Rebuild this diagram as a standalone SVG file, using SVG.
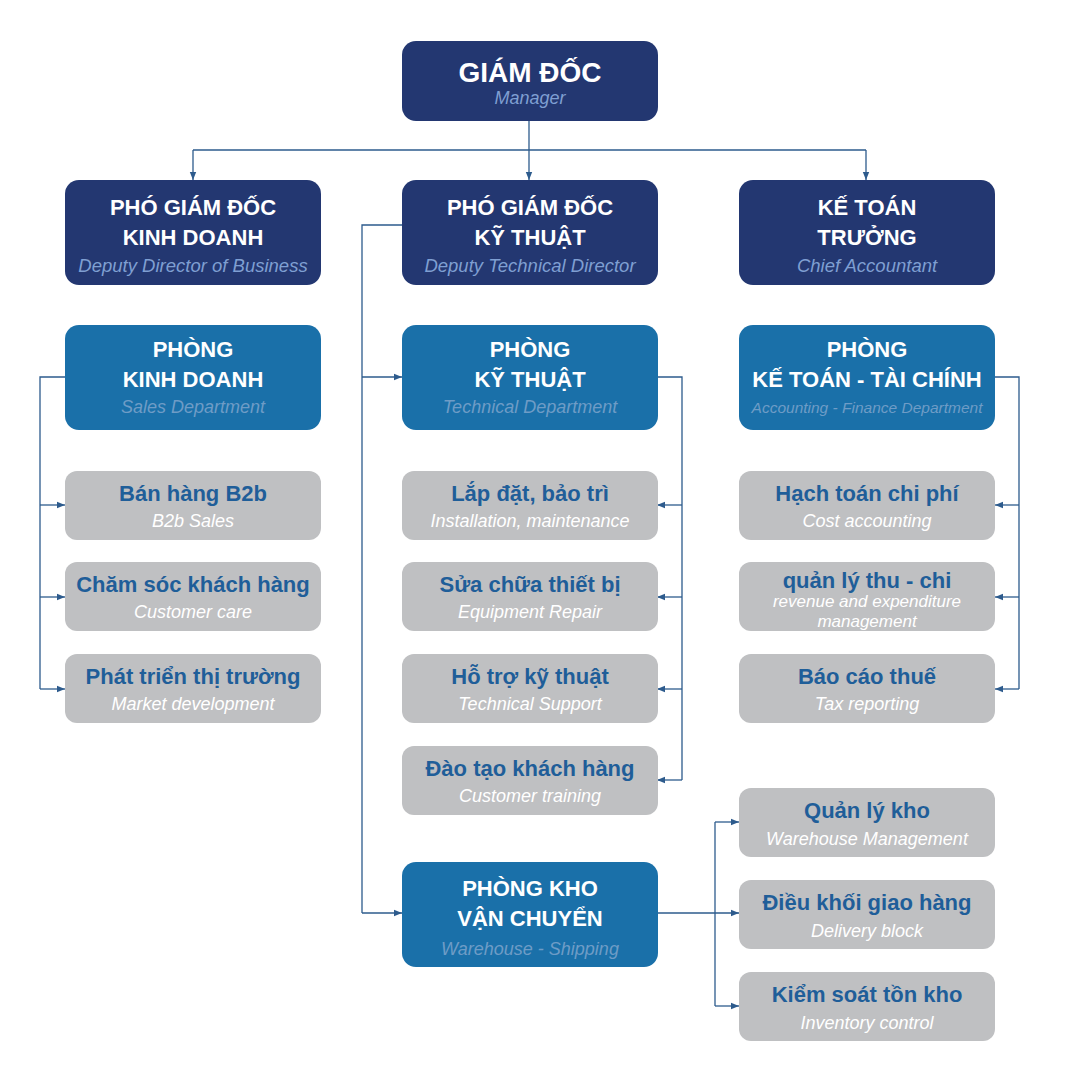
<svg xmlns="http://www.w3.org/2000/svg" width="1080" height="1080" viewBox="0 0 1080 1080">
<defs>
<marker id="arr" viewBox="0 0 8 8" refX="8" refY="4" markerWidth="8" markerHeight="8" markerUnits="userSpaceOnUse" orient="auto">
<path d="M0,0.8 L8,4 L0,7.2 Z" fill="#2d5b8d"/>
</marker>
<style>
.navy{fill:#233771}
.blue{fill:#1a70a9}
.gray{fill:#bfc0c2}
text{font-family:"Liberation Sans",Arial,sans-serif;text-anchor:middle}
.t1{font-size:22px;font-weight:bold;fill:#ffffff}
.tg{font-size:28px;font-weight:bold;fill:#ffffff}
.sd{font-size:18.5px;font-style:italic;fill:#7f9fd2}
.sb{font-size:18px;font-style:italic;fill:#6e9cc6}
.tt{font-size:22px;font-weight:bold;fill:#1f5e99}
.st{font-size:18px;font-style:italic;fill:#ffffff}
.con{fill:none;stroke:#2d5b8d;stroke-width:1.3}
</style>
</defs>
<rect width="1080" height="1080" fill="#ffffff"/>
<g id="connectors">
<path class="con" d="M529,120 V150"/>
<path class="con" d="M193,150 H866"/>
<path class="con" d="M193,150 V180" marker-end="url(#arr)"/>
<path class="con" d="M529,150 V180" marker-end="url(#arr)"/>
<path class="con" d="M866,150 V180" marker-end="url(#arr)"/>
<path class="con" d="M402,225 H362 V913"/>
<path class="con" d="M362,377 H402" marker-end="url(#arr)"/>
<path class="con" d="M362,913 H402" marker-end="url(#arr)"/>
<path class="con" d="M65,377 H40 V689"/>
<path class="con" d="M40,505 H65" marker-end="url(#arr)"/>
<path class="con" d="M40,597 H65" marker-end="url(#arr)"/>
<path class="con" d="M40,689 H65" marker-end="url(#arr)"/>
<path class="con" d="M657,377 H682 V780"/>
<path class="con" d="M682,505 H657" marker-end="url(#arr)"/>
<path class="con" d="M682,597 H657" marker-end="url(#arr)"/>
<path class="con" d="M682,689 H657" marker-end="url(#arr)"/>
<path class="con" d="M682,780 H657" marker-end="url(#arr)"/>
<path class="con" d="M995,377 H1019 V689"/>
<path class="con" d="M1019,505 H995" marker-end="url(#arr)"/>
<path class="con" d="M1019,597 H995" marker-end="url(#arr)"/>
<path class="con" d="M1019,689 H995" marker-end="url(#arr)"/>
<path class="con" d="M657,913 H739" marker-end="url(#arr)"/>
<path class="con" d="M715,822 V1006"/>
<path class="con" d="M715,822 H739" marker-end="url(#arr)"/>
<path class="con" d="M715,1006 H739" marker-end="url(#arr)"/>
</g>
<g id="giam-doc">
<rect class="navy" x="402" y="41" width="256" height="80" rx="14"/>
<text class="tg" x="530" y="82">GIÁM ĐỐC</text>
<text class="sd" x="530" y="104" style="font-size:18px">Manager</text>
</g>
<g id="pgd-kinh-doanh">
<rect class="navy" x="65" y="180" width="256" height="105" rx="14"/>
<text class="t1" x="193" y="215">PHÓ GIÁM ĐỐC</text>
<text class="t1" x="193" y="245">KINH DOANH</text>
<text class="sd" x="193" y="272">Deputy Director of Business</text>
</g>
<g id="pgd-ky-thuat">
<rect class="navy" x="402" y="180" width="256" height="105" rx="14"/>
<text class="t1" x="530" y="215">PHÓ GIÁM ĐỐC</text>
<text class="t1" x="530" y="245">KỸ THUẬT</text>
<text class="sd" x="530" y="272">Deputy Technical Director</text>
</g>
<g id="ke-toan-truong">
<rect class="navy" x="739" y="180" width="256" height="105" rx="14"/>
<text class="t1" x="867" y="215">KẾ TOÁN</text>
<text class="t1" x="867" y="245">TRƯỞNG</text>
<text class="sd" x="867" y="272">Chief Accountant</text>
</g>
<g id="phong-kinh-doanh">
<rect class="blue" x="65" y="325" width="256" height="105" rx="14"/>
<text class="t1" x="193" y="357">PHÒNG</text>
<text class="t1" x="193" y="387">KINH DOANH</text>
<text class="sb" x="193" y="413">Sales Department</text>
</g>
<g id="phong-ky-thuat">
<rect class="blue" x="402" y="325" width="256" height="105" rx="14"/>
<text class="t1" x="530" y="357">PHÒNG</text>
<text class="t1" x="530" y="387">KỸ THUẬT</text>
<text class="sb" x="530" y="413">Technical Department</text>
</g>
<g id="phong-ke-toan">
<rect class="blue" x="739" y="325" width="256" height="105" rx="14"/>
<text class="t1" x="867" y="357">PHÒNG</text>
<text class="t1" x="867" y="387">KẾ TOÁN - TÀI CHÍNH</text>
<text class="sb" x="867" y="413" style="font-size:15.5px">Accounting - Finance Department</text>
</g>
<g id="ban-hang-b2b">
<rect class="gray" x="65" y="471" width="256" height="69" rx="12"/>
<text class="tt" x="193" y="501">Bán hàng B2b</text>
<text class="st" x="193" y="527">B2b Sales</text>
</g>
<g id="cham-soc-khach-hang">
<rect class="gray" x="65" y="562" width="256" height="69" rx="12"/>
<text class="tt" x="193" y="592">Chăm sóc khách hàng</text>
<text class="st" x="193" y="618">Customer care</text>
</g>
<g id="phat-trien-thi-truong">
<rect class="gray" x="65" y="654" width="256" height="69" rx="12"/>
<text class="tt" x="193" y="684">Phát triển thị trường</text>
<text class="st" x="193" y="710">Market development</text>
</g>
<g id="lap-dat-bao-tri">
<rect class="gray" x="402" y="471" width="256" height="69" rx="12"/>
<text class="tt" x="530" y="501">Lắp đặt, bảo trì</text>
<text class="st" x="530" y="527">Installation, maintenance</text>
</g>
<g id="sua-chua-thiet-bi">
<rect class="gray" x="402" y="562" width="256" height="69" rx="12"/>
<text class="tt" x="530" y="592">Sửa chữa thiết bị</text>
<text class="st" x="530" y="618">Equipment Repair</text>
</g>
<g id="ho-tro-ky-thuat">
<rect class="gray" x="402" y="654" width="256" height="69" rx="12"/>
<text class="tt" x="530" y="684">Hỗ trợ kỹ thuật</text>
<text class="st" x="530" y="710">Technical Support</text>
</g>
<g id="dao-tao-khach-hang">
<rect class="gray" x="402" y="746" width="256" height="69" rx="12"/>
<text class="tt" x="530" y="776">Đào tạo khách hàng</text>
<text class="st" x="530" y="802">Customer training</text>
</g>
<g id="hach-toan-chi-phi">
<rect class="gray" x="739" y="471" width="256" height="69" rx="12"/>
<text class="tt" x="867" y="501">Hạch toán chi phí</text>
<text class="st" x="867" y="527">Cost accounting</text>
</g>
<g id="quan-ly-thu-chi">
<rect class="gray" x="739" y="562" width="256" height="69" rx="12"/>
<text class="tt" x="867" y="588">quản lý thu - chi</text>
<text class="st" x="867" y="607" style="font-size:17px">revenue and expenditure</text>
<text class="st" x="867" y="627" style="font-size:17px">management</text>
</g>
<g id="bao-cao-thue">
<rect class="gray" x="739" y="654" width="256" height="69" rx="12"/>
<text class="tt" x="867" y="684">Báo cáo thuế</text>
<text class="st" x="867" y="710">Tax reporting</text>
</g>
<g id="phong-kho-van-chuyen">
<rect class="blue" x="402" y="862" width="256" height="105" rx="14"/>
<text class="t1" x="530" y="896">PHÒNG KHO</text>
<text class="t1" x="530" y="926">VẬN CHUYỂN</text>
<text class="sb" x="530" y="955">Warehouse - Shipping</text>
</g>
<g id="quan-ly-kho">
<rect class="gray" x="739" y="788" width="256" height="69" rx="12"/>
<text class="tt" x="867" y="818">Quản lý kho</text>
<text class="st" x="867" y="845">Warehouse Management</text>
</g>
<g id="dieu-khoi-giao-hang">
<rect class="gray" x="739" y="880" width="256" height="69" rx="12"/>
<text class="tt" x="867" y="910">Điều khối giao hàng</text>
<text class="st" x="867" y="937">Delivery block</text>
</g>
<g id="kiem-soat-ton-kho">
<rect class="gray" x="739" y="972" width="256" height="69" rx="12"/>
<text class="tt" x="867" y="1002">Kiểm soát tồn kho</text>
<text class="st" x="867" y="1029">Inventory control</text>
</g>
</svg>
